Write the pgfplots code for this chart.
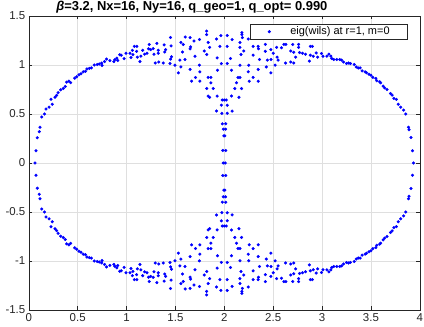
\documentclass[border=0pt]{standalone}
\usepackage{fontspec}
\setmainfont{Liberation Sans}
\usepackage{pgfplots}
\pgfplotsset{compat=1.18}
\usepackage{pgfplotstable}

\definecolor{axgray}{RGB}{38,38,38}
\definecolor{gridgray}{RGB}{223,223,223}

% eigenvalues, upper half plane
\pgfplotstableread{
x y
0.063 0.0
0.074 0.125
0.087 0.257
0.107 0.32
0.115 0.365
0.132 0.47
0.16 0.50
0.176 0.55
0.207 0.57
0.24 0.60
0.227 0.65
0.268 0.67
0.285 0.69
0.30 0.717
0.326 0.747
0.353 0.76
0.373 0.78
0.387 0.825
0.41 0.835
0.428 0.82
0.47 0.866
0.49 0.88
0.513 0.90
0.534 0.91
0.557 0.93
0.58 0.935
0.595 0.96
0.62 0.965
0.64 0.97
0.67 1.00
0.70 1.005
0.72 1.01
0.745 1.02
0.75 0.995
0.775 1.035
0.795 1.06
0.83 1.045
0.87 1.035
0.88 1.055
0.90 1.07
0.91 1.045
0.93 1.105
0.945 1.10
0.975 1.065
0.995 1.12
1.035 1.12
1.045 1.076
1.06 1.15
1.08 1.19
1.105 1.19
1.103 1.14
1.065 1.105
1.11 1.08
1.137 1.035
1.147 1.09
1.165 1.15
1.185 1.11
1.21 1.12
1.225 1.165
1.232 1.21
1.246 1.157
1.273 1.167
1.28 1.11
1.31 1.22
1.324 1.15
1.324 1.12
1.294 1.02
1.33 1.03
1.375 1.02
1.385 1.205
1.39 1.133
1.40 1.157
1.45 1.28
1.455 1.195
1.46 1.085
1.45 1.06
1.445 1.015
1.495 0.998
1.53 0.92
1.546 1.05
1.556 0.98
1.556 1.23
1.58 1.21
1.573 1.133
1.597 1.056
1.60 1.285
1.65 1.28
1.655 1.185
1.65 1.165
1.69 1.245
1.70 1.09
1.747 1.26
1.65 0.955
1.665 0.835
1.706 0.873
1.745 0.998
1.75 0.93
1.75 0.835
1.795 1.143
1.82 1.107
1.82 1.346
1.82 1.31
1.835 1.23
1.85 1.18
1.835 0.873
1.863 0.873
1.863 0.818
1.82 0.76
1.886 0.76
1.835 0.683
1.85 0.67
1.927 0.683
1.92 1.265
1.965 1.30
1.955 1.19
1.927 1.072
1.93 0.947
1.97 1.015
1.99 0.0
2.01 0.0
1.985 0.128
2.015 0.128
1.995 0.277
2.005 0.277
1.99 0.345
2.013 0.345
1.98 0.40
2.015 0.40
1.975 0.507
2.03 0.507
1.92 0.53
2.08 0.53
1.97 0.59
2.03 0.59
1.98 0.643
2.0 0.643
2.02 0.643
2.03 1.30
2.08 1.26
2.03 1.19
2.18 1.33
2.18 1.31
2.185 1.28
2.16 1.23
2.16 1.18
2.17 1.107
2.20 1.143
2.245 1.265
2.295 1.10
2.295 1.19
2.347 1.19
2.35 1.165
2.42 1.21
2.42 1.14
2.477 1.056
2.50 1.12
2.064 1.066
2.03 1.015
2.16 0.998
2.25 0.998
2.245 0.93
2.295 0.873
2.255 0.835
2.347 0.835
2.347 0.955
2.36 1.056
2.43 0.98
2.477 0.92
2.44 1.05
2.52 0.998
2.074 0.947
2.125 0.818
2.14 0.873
2.16 0.873
2.108 0.76
2.177 0.76
2.074 0.683
2.15 0.67
2.476 1.157
2.535 1.18
2.54 1.08
2.55 1.05
2.585 1.175
2.61 1.21
2.63 1.21
2.627 1.02
2.68 1.143
2.68 1.03
2.70 1.21
2.71 1.13
2.71 1.02
2.73 1.08
2.76 1.21
2.76 1.18
2.77 1.127
2.80 1.12
2.83 1.11
2.87 1.04
2.88 1.19
2.90 1.19
2.88 1.10
2.91 1.09
2.94 1.123
2.955 1.08
2.995 1.117
3.01 1.09
3.05 1.09
3.07 1.11
3.09 1.09
3.10 1.066
3.12 1.056
3.15 1.056
3.18 1.056
3.20 1.05
3.22 1.03
3.25 1.015
3.27 1.02
3.29 1.015
3.33 1.005
3.35 0.98
3.37 0.97
3.39 0.97
3.41 0.94
3.44 0.93
3.455 0.92
3.48 0.906
3.50 0.895
3.52 0.873
3.55 0.863
3.56 0.84
3.59 0.828
3.60 0.818
3.625 0.785
3.64 0.767
3.665 0.75
3.70 0.71
3.717 0.693
3.735 0.66
3.76 0.65
3.78 0.60
3.805 0.57
3.835 0.54
3.857 0.50
3.885 0.365
3.89 0.34
3.91 0.26
3.925 0.125
3.935 0.0
}\upperhalf

% complex conjugate partners, lower half plane
\pgfplotstableread{
x y
0.074 -0.125
0.087 -0.257
0.107 -0.32
0.115 -0.365
0.132 -0.47
0.16 -0.50
0.176 -0.55
0.207 -0.57
0.24 -0.60
0.227 -0.65
0.268 -0.67
0.285 -0.69
0.30 -0.717
0.326 -0.747
0.353 -0.76
0.373 -0.78
0.387 -0.825
0.41 -0.835
0.428 -0.82
0.47 -0.866
0.49 -0.88
0.513 -0.90
0.534 -0.91
0.557 -0.93
0.58 -0.935
0.595 -0.96
0.62 -0.965
0.64 -0.97
0.67 -1.00
0.70 -1.005
0.72 -1.01
0.745 -1.02
0.75 -0.995
0.775 -1.035
0.795 -1.06
0.83 -1.045
0.87 -1.035
0.88 -1.055
0.90 -1.07
0.91 -1.045
0.93 -1.105
0.945 -1.10
0.975 -1.065
0.995 -1.12
1.035 -1.12
1.045 -1.076
1.06 -1.15
1.08 -1.19
1.105 -1.19
1.103 -1.14
1.065 -1.105
1.11 -1.08
1.137 -1.035
1.147 -1.09
1.165 -1.15
1.185 -1.11
1.21 -1.12
1.225 -1.165
1.232 -1.21
1.246 -1.157
1.273 -1.167
1.28 -1.11
1.31 -1.22
1.324 -1.15
1.324 -1.12
1.294 -1.02
1.33 -1.03
1.375 -1.02
1.385 -1.205
1.39 -1.133
1.40 -1.157
1.45 -1.28
1.455 -1.195
1.46 -1.085
1.45 -1.06
1.445 -1.015
1.495 -0.998
1.53 -0.92
1.546 -1.05
1.556 -0.98
1.556 -1.23
1.58 -1.21
1.573 -1.133
1.597 -1.056
1.60 -1.285
1.65 -1.28
1.655 -1.185
1.65 -1.165
1.69 -1.245
1.70 -1.09
1.747 -1.26
1.65 -0.955
1.665 -0.835
1.706 -0.873
1.745 -0.998
1.75 -0.93
1.75 -0.835
1.795 -1.143
1.82 -1.107
1.82 -1.346
1.82 -1.31
1.835 -1.23
1.85 -1.18
1.835 -0.873
1.863 -0.873
1.863 -0.818
1.82 -0.76
1.886 -0.76
1.835 -0.683
1.85 -0.67
1.927 -0.683
1.92 -1.265
1.965 -1.30
1.955 -1.19
1.927 -1.072
1.93 -0.947
1.97 -1.015
1.985 -0.128
2.015 -0.128
1.995 -0.277
2.005 -0.277
1.99 -0.345
2.013 -0.345
1.98 -0.40
2.015 -0.40
1.975 -0.507
2.03 -0.507
1.92 -0.53
2.08 -0.53
1.97 -0.59
2.03 -0.59
1.98 -0.643
2.0 -0.643
2.02 -0.643
2.03 -1.30
2.08 -1.26
2.03 -1.19
2.18 -1.33
2.18 -1.31
2.185 -1.28
2.16 -1.23
2.16 -1.18
2.17 -1.107
2.20 -1.143
2.245 -1.265
2.295 -1.10
2.295 -1.19
2.347 -1.19
2.35 -1.165
2.42 -1.21
2.42 -1.14
2.477 -1.056
2.50 -1.12
2.064 -1.066
2.03 -1.015
2.16 -0.998
2.25 -0.998
2.245 -0.93
2.295 -0.873
2.255 -0.835
2.347 -0.835
2.347 -0.955
2.36 -1.056
2.43 -0.98
2.477 -0.92
2.44 -1.05
2.52 -0.998
2.074 -0.947
2.125 -0.818
2.14 -0.873
2.16 -0.873
2.108 -0.76
2.177 -0.76
2.074 -0.683
2.15 -0.67
2.476 -1.157
2.535 -1.18
2.54 -1.08
2.55 -1.05
2.585 -1.175
2.61 -1.21
2.63 -1.21
2.627 -1.02
2.68 -1.143
2.68 -1.03
2.70 -1.21
2.71 -1.13
2.71 -1.02
2.73 -1.08
2.76 -1.21
2.76 -1.18
2.77 -1.127
2.80 -1.12
2.83 -1.11
2.87 -1.04
2.88 -1.19
2.90 -1.19
2.88 -1.10
2.91 -1.09
2.94 -1.123
2.955 -1.08
2.995 -1.117
3.01 -1.09
3.05 -1.09
3.07 -1.11
3.09 -1.09
3.10 -1.066
3.12 -1.056
3.15 -1.056
3.18 -1.056
3.20 -1.05
3.22 -1.03
3.25 -1.015
3.27 -1.02
3.29 -1.015
3.33 -1.005
3.35 -0.98
3.37 -0.97
3.39 -0.97
3.41 -0.94
3.44 -0.93
3.455 -0.92
3.48 -0.906
3.50 -0.895
3.52 -0.873
3.55 -0.863
3.56 -0.84
3.59 -0.828
3.60 -0.818
3.625 -0.785
3.64 -0.767
3.665 -0.75
3.70 -0.71
3.717 -0.693
3.735 -0.66
3.76 -0.65
3.78 -0.60
3.805 -0.57
3.835 -0.54
3.857 -0.50
3.885 -0.365
3.89 -0.34
3.91 -0.26
3.925 -0.125
}\lowerhalf

\begin{document}
\begin{tikzpicture}
\begin{axis}[
  at={(0,0)}, anchor=south west,
  scale only axis, width=391bp, height=294bp,
  xmin=0, xmax=4, ymin=-1.5, ymax=1.5,
  xtick={0,0.5,1,1.5,2,2.5,3,3.5,4},
  ytick={-1.5,-1,-0.5,0,0.5,1,1.5},
  grid=major,
  major grid style={gridgray, line width=0.5bp},
  axis line style={axgray, line width=0.5bp},
  tick style={axgray, line width=0.5bp},
  tick align=inside, tick pos=both, major tick length=3.5bp,
  ticklabel style={font=\fontsize{11.5}{13}\selectfont, text=axgray},
  /pgf/number format/assume math mode=true,
  title={{\itshape β}=3.2, Nx=16, Ny=16, q\_geo=1, q\_opt= 0.990},
  every axis title/.style={at={(0.417,1)}, anchor=base, yshift=5bp,
    inner sep=0bp, font=\fontsize{13}{15}\selectfont\bfseries},
  legend style={at={(0.969,0.973)}, anchor=north east,
    draw=axgray, line width=0.5bp, fill=white,
    inner xsep=0bp, inner ysep=1bp,
    nodes={inner sep=1.8bp},
    font=\fontsize{11}{13}\selectfont},
  legend image code/.code={
    \path (0bp,0bp) (38bp,0bp);
    \fill[blue] (19bp,0bp) circle (1.35bp);},
]
\addplot[only marks, mark=*, mark size=1.35bp, color=blue] table {\upperhalf};
\addlegendentry{eig(wils) at r=1, m=0\hspace*{16bp}}
\addplot[only marks, mark=*, mark size=1.35bp, color=blue, forget plot] table {\lowerhalf};
\end{axis}
\pgfresetboundingbox
\path[use as bounding box] (-28.8bp,-17bp) rectangle (395.2bp,310bp);
\end{tikzpicture}
\end{document}
